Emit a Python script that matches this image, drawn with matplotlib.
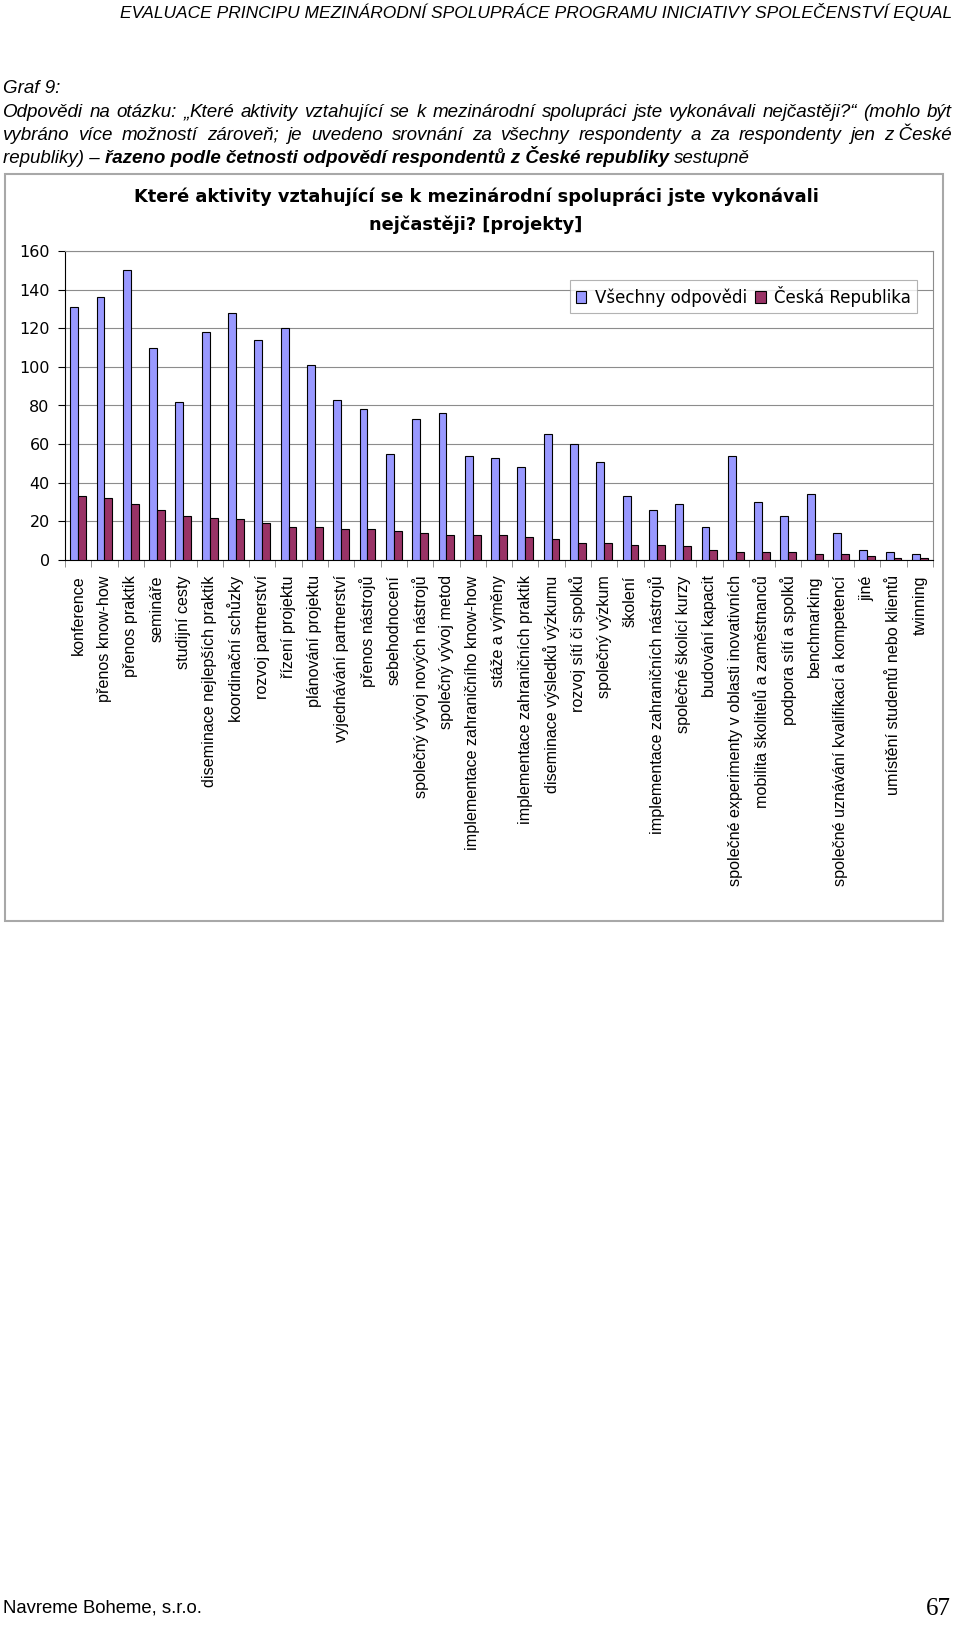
import matplotlib
matplotlib.use("Agg")
import matplotlib.pyplot as plt
import numpy as np
from matplotlib.patches import Rectangle

categories = [
    "konference", "přenos know-how", "přenos praktik", "semináře",
    "studijní cesty", "diseminace nejlepších praktik", "koordinační schůzky",
    "rozvoj partnerství", "řízení projektu", "plánování projektu",
    "vyjednávání partnerství", "přenos nástrojů", "sebehodnocení",
    "společný vývoj nových nástrojů", "společný vývoj metod",
    "implementace zahraničního know-how", "stáže a výměny",
    "implementace zahraničních praktik", "diseminace výsledků výzkumu",
    "rozvoj sítí či spolků", "společný výzkum", "školení",
    "implementace zahraničních nástrojů", "společné školicí kurzy",
    "budování kapacit", "společné experimenty v oblasti inovativních",
    "mobilita školitelů a zaměstnanců", "podpora sítí a spolků",
    "benchmarking", "společné uznávání kvalifikací a kompetencí", "jiné",
    "umístění studentů nebo klientů", "twinning",
]
all_answers = [131, 136, 150, 110, 82, 118, 128, 114, 120, 101, 83, 78, 55,
               73, 76, 54, 53, 48, 65, 60, 51, 33, 26, 29, 17, 54, 30, 23,
               34, 14, 5, 4, 3]
cz_answers = [33, 32, 29, 26, 23, 22, 21, 19, 17, 17, 16, 16, 15, 14, 13,
              13, 13, 12, 11, 9, 9, 8, 8, 7, 5, 4, 4, 4, 3, 3, 2, 1, 1]
series_names = ["Všechny odpovědi", "Česká Republika"]
y_ticks = list(range(0, 161, 20))

chart_title = ["Které aktivity vztahující se k mezinárodní spolupráci jste vykonávali",
               "nejčastěji? [projekty]"]
header = "EVALUACE PRINCIPU MEZINÁRODNÍ SPOLUPRÁCE PROGRAMU INICIATIVY SPOLEČENSTVÍ EQUAL"
caption_1 = ["Odpovědi", "na", "otázku:", ("„", "Které"), "aktivity", "vztahující", "se", "k",
             "mezinárodní", "spolupráci", "jste", "vykonávali", "nejčastěji?“", "(mohlo", "být"]
caption_2 = ["vybráno", "více", "možností", "zároveň;", "je", "uvedeno", "srovnání", "za",
             "všechny", "respondenty", "a", "za", "respondenty", "jen", "z České"]

W, H = 960, 1626
fig = plt.figure(figsize=(W / 100, H / 100), dpi=100)
renderer = fig.canvas.get_renderer()


def fx(px):
    return px / W


def fy(py):
    return 1 - py / H


cap_font = dict(family="Liberation Sans", style="italic", size=13.5)


def width_of(s, **kw):
    t = fig.text(0, 0, s, **kw)
    w = t.get_window_extent(renderer).width
    t.remove()
    return w


def justify(words, y, x0, x1, **kw):
    # a word may be a tuple of pieces drawn next to each other
    words = [w if isinstance(w, tuple) else (w,) for w in words]
    widths = [[width_of(p, **kw) for p in w] for w in words]
    gap = (x1 - x0 - sum(sum(w) for w in widths)) / (len(words) - 1)
    pos = x0
    for w, wd in zip(words, widths):
        for piece, pw in zip(w, wd):
            fig.text(fx(pos), fy(y), piece, ha="left", va="baseline", **kw)
            pos += pw
        pos += gap


# page header and caption
fig.text(fx(952), fy(18), header, ha="right", va="baseline",
         family="Liberation Sans", style="italic", size=12.5)
fig.text(fx(3), fy(93), "Graf 9:", ha="left", va="baseline", **cap_font)
justify(caption_1, 117, 3, 952, **cap_font)
justify(caption_2, 140, 3, 952, **cap_font)

space = width_of("a a", **cap_font) - width_of("aa", **cap_font)
pos = 3
for seg, wt in [("republiky) –", "normal"),
                ("řazeno podle četnosti odpovědí respondentů z České republiky", "bold"),
                ("sestupně", "normal")]:
    t = fig.text(fx(pos), fy(163), seg, ha="left", va="baseline", weight=wt, **cap_font)
    pos += t.get_window_extent(renderer).width + space

# chart frame
fig.patches.append(Rectangle((fx(5), fy(921)), fx(943) - fx(5), fy(174) - fy(921),
                             transform=fig.transFigure, fill=False,
                             edgecolor="#a8a8a8", linewidth=1.5))

for i, line in enumerate(chart_title):
    fig.text(fx(476), fy(197 + 28 * i), line, ha="center", va="center",
             family="DejaVu Sans", weight="bold", size=12.8)

ax = fig.add_axes([fx(65), fy(560), fx(933) - fx(65), fy(251) - fy(560)])
x = np.arange(len(categories))
ax.bar(x - 0.15, all_answers, width=0.3, color="#9999FF", edgecolor="black",
       linewidth=0.8, label=series_names[0], zorder=3)
ax.bar(x + 0.15, cz_answers, width=0.3, color="#993366", edgecolor="black",
       linewidth=0.8, label=series_names[1], zorder=3)

ax.set_xlim(-0.5, len(categories) - 0.5)
ax.set_ylim(0, 160)
ax.set_yticks(y_ticks)
ax.set_yticklabels([str(v) for v in y_ticks], family="DejaVu Sans", size=11.5)
ax.set_xticks(x)
ax.set_xticklabels(categories, rotation=90, family="Liberation Sans", size=11.6)
ax.set_xticks(np.arange(len(categories) + 1) - 0.5, minor=True)
ax.tick_params(axis="x", which="major", length=0, pad=11)
ax.tick_params(axis="x", which="minor", length=5, color="#808080", direction="out")
ax.tick_params(axis="y", length=5, pad=6, color="black")
ax.yaxis.grid(True, color="#8c8c8c", linewidth=0.8, zorder=0)
ax.set_axisbelow(True)
for side in ("top", "right"):
    ax.spines[side].set_color("#8c8c8c")
    ax.spines[side].set_linewidth(0.8)
for side in ("left", "bottom"):
    ax.spines[side].set_color("black")
    ax.spines[side].set_linewidth(0.8)

leg = ax.legend(loc="upper right", bbox_to_anchor=(fx(917), fy(280)),
                bbox_transform=fig.transFigure, ncol=2, frameon=True, fancybox=False,
                borderaxespad=0, borderpad=0.35, handlelength=0.65, handleheight=0.65,
                handletextpad=0.5, columnspacing=0.5,
                prop=dict(family="DejaVu Sans", size=12))
leg.get_frame().set_edgecolor("#a0a0a0")
leg.get_frame().set_linewidth(0.8)

# footer
fig.text(fx(3), fy(1612), "Navreme Boheme, s.r.o.", ha="left", va="baseline",
         family="Liberation Sans", size=13.3)
fig.text(fx(951), fy(1615), "67", ha="right", va="baseline",
         family="Liberation Serif", size=18)

fig.savefig("out.png", dpi=100)
